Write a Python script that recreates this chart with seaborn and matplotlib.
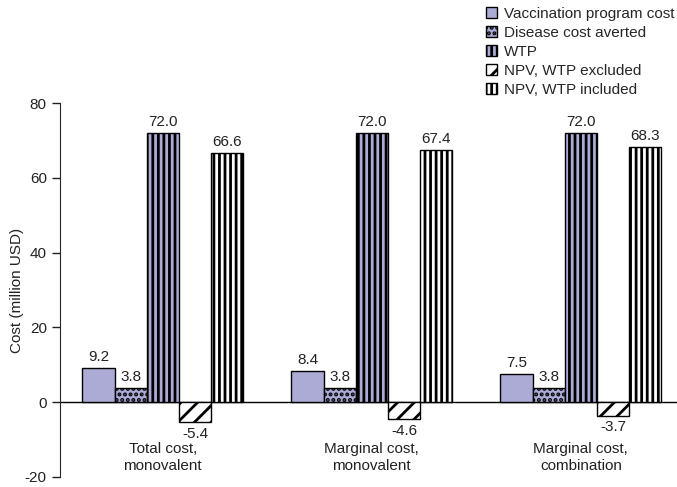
import numpy as np
import pandas as pd
import matplotlib
matplotlib.use("Agg")
import matplotlib.pyplot as plt
import seaborn as sns

# datos
scenarios = ["Total cost,\nmonovalent", "Marginal cost,\nmonovalent", "Marginal cost,\ncombination"]
components = ["Vaccination program cost", "Disease cost averted", "WTP",
              "NPV, WTP excluded", "NPV, WTP included"]
vaccination = [9.2, 8.4, 7.5]
disease = [3.8, 3.8, 3.8]
wtp = [72.0, 72.0, 72.0]
npv_excl = [-5.4, -4.6, -3.7]
npv_incl = [66.6, 67.4, 68.3]

series = [vaccination, disease, wtp, npv_excl, npv_incl]
rows = []
for comp, vals in zip(components, series):
    for sc, v in zip(scenarios, vals):
        rows.append({"scenario": sc, "component": comp, "cost": v})
df = pd.DataFrame(rows)

sns.set_style("ticks")
plt.rcParams["font.family"] = ["Liberation Sans", "DejaVu Sans"]
plt.rcParams["hatch.linewidth"] = 2.0
plt.rcParams["axes.unicode_minus"] = False

purple = "#ABABD6"
colors = [purple, purple, purple, "white", "white"]
hatches = [None, "...", "|||", "//", "|||"]
fs = 11

fig = plt.figure(figsize=(6.77, 4.87), dpi=100)
ax = fig.add_axes([60 / 677, 1 - 477 / 487, 1 - 60 / 677, (477 - 103) / 487])

sns.barplot(data=df, x="scenario", y="cost", hue="component",
            palette=colors, width=0.77, edgecolor="black", linewidth=1,
            saturation=1, legend=False, ax=ax)

for cont, h in zip(ax.containers, hatches):
    for bar in cont:
        if h:
            bar.set_hatch(h)
    ax.bar_label(cont, fmt="%.1f", padding=3, fontsize=fs, color="#222222")

ax.set_ylim(-20, 80)
ax.set_xlim(-0.492, 2.46)
ax.set_yticks([-20, 0, 20, 40, 60, 80])
ax.tick_params(axis="y", labelsize=fs, length=6, width=1, colors="#222222")
ax.set_xticks([])
ax.set_xlabel("")
ax.set_ylabel("Cost (million USD)", fontsize=fs, color="#222222")
ax.yaxis.set_label_coords(-0.058, 0.5)
ax.axhline(0, color="black", linewidth=1, zorder=0)
sns.despine(ax=ax, bottom=True)

for i, sc in enumerate(scenarios):
    ax.text(i, -10.6, sc, ha="center", va="top", fontsize=fs,
            color="#222222", linespacing=1.25)

handles = [c[0] for c in ax.containers]
fig.legend(handles, components, loc="upper left", bbox_to_anchor=(486 / 677, 0.986),
           frameon=False, fontsize=fs, handlelength=0.7, handleheight=0.7,
           handletextpad=0.45, labelspacing=0.33, borderaxespad=0, borderpad=0)

fig.savefig("out.png", dpi=100)
